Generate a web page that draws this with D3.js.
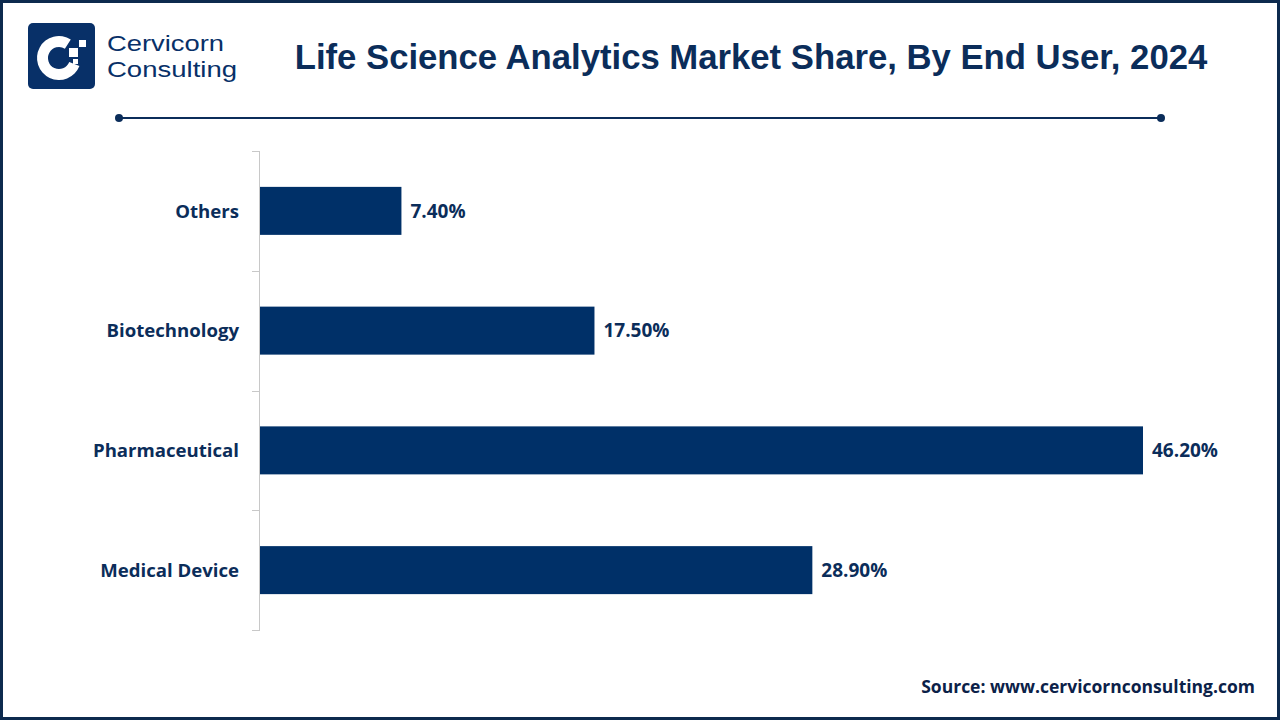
<!DOCTYPE html>
<html><head><meta charset="utf-8">
<script src="https://cdn.jsdelivr.net/npm/d3@7"></script>
<style>html,body{margin:0;padding:0;background:#fff;}svg{display:block;}</style>
</head><body>
<script>
const categories = ["Others", "Biotechnology", "Pharmaceutical", "Medical Device"];
const shares = [7.4, 17.5, 46.2, 28.9];
const valueLabels = ["7.40%", "17.50%", "46.20%", "28.90%"];
const title = "Life Science Analytics Market Share, By End User, 2024";
const source = "Source: www.cervicornconsulting.com";
const brandLines = ["Cervicorn", "Consulting"];

const W = 1280, H = 720;
const navy = "#0b2d5a", bar = "#003068";
const svg = d3.select("body").append("svg").attr("width", W).attr("height", H);
svg.append("rect").attr("width", W).attr("height", H).attr("fill", "#fff");
svg.append("rect").attr("x", 1.5).attr("y", 1.5).attr("width", W - 3).attr("height", H - 3)
  .attr("fill", "none").attr("stroke", "#0d2a4e").attr("stroke-width", 3);

// Logo
const logo = svg.append("g").attr("transform", "translate(28,23)");
logo.append("rect").attr("width", 67).attr("height", 66).attr("rx", 5).attr("fill", "#083068");
logo.append("path").attr("transform", "translate(31,35)")
  .attr("d", d3.arc()({innerRadius: 11, outerRadius: 22, startAngle: Math.PI * 0.62, endAngle: Math.PI * 2.18}))
  .attr("fill", "#fff");
logo.append("rect").attr("x", 41).attr("y", 25).attr("width", 9).attr("height", 9).attr("fill", "#fff");
logo.append("rect").attr("x", 51).attr("y", 17).attr("width", 7).attr("height", 7).attr("fill", "#fff");
logo.append("rect").attr("x", 45).attr("y", 36).attr("width", 5).attr("height", 5).attr("fill", "#fff");
const brandWidths = [117, 130];
svg.selectAll(".brand").data(brandLines).join("text")
  .attr("x", 107).attr("y", (d, i) => 51 + i * 25.5).text(d => d)
  .attr("textLength", (d, i) => brandWidths[i]).attr("lengthAdjust", "spacingAndGlyphs")
  .attr("font-family", "Liberation Sans, Arial, sans-serif").attr("font-size", 22.5)
  .attr("fill", "#083068");

// Title
svg.append("text").attr("x", 751).attr("y", 69).attr("text-anchor", "middle").text(title)
  .attr("font-family", "Liberation Sans, Arial, sans-serif").attr("font-weight", "bold")
  .attr("font-size", 34.7).attr("fill", navy);

// Header rule
svg.append("line").attr("x1", 119).attr("x2", 1161).attr("y1", 118).attr("y2", 118)
  .attr("stroke", navy).attr("stroke-width", 2);
[119, 1161].forEach(cx => svg.append("circle").attr("cx", cx).attr("cy", 118).attr("r", 4).attr("fill", navy));

// Scales
const x = d3.scaleLinear().domain([0, 46.2]).range([260, 1143]);
const band = d3.scaleBand().domain(categories).range([151, 630]);

// Axis line and boundary ticks
const g = svg.append("g");
g.append("line").attr("x1", 259.5).attr("x2", 259.5).attr("y1", 151).attr("y2", 630)
  .attr("stroke", "#c8c8c8").attr("stroke-width", 1);
const bounds = categories.map(c => band(c)).concat([630]);
g.selectAll(".tk").data(bounds).join("line")
  .attr("x1", 252).attr("x2", 260).attr("y1", d => Math.round(d) + 0.5).attr("y2", d => Math.round(d) + 0.5)
  .attr("stroke", "#c8c8c8").attr("stroke-width", 1);

// Bars
svg.selectAll(".bar").data(categories).join("rect")
  .attr("x", x(0)).attr("y", d => band(d) + band.bandwidth() / 2 - 24)
  .attr("width", (d, i) => x(shares[i]) - x(0)).attr("height", 48).attr("fill", bar);

// Category labels
svg.selectAll(".cat").data(categories).join("text")
  .attr("x", 239).attr("y", d => band(d) + band.bandwidth() / 2).attr("dy", "0.36em")
  .attr("text-anchor", "end").text(d => d)
  .attr("font-family", "Open Sans, sans-serif").attr("font-weight", "bold")
  .attr("font-size", 18.6).attr("fill", navy);

// Value labels
svg.selectAll(".val").data(categories).join("text")
  .attr("x", (d, i) => x(shares[i]) + 9).attr("y", d => band(d) + band.bandwidth() / 2).attr("dy", "0.36em")
  .text((d, i) => valueLabels[i])
  .attr("font-family", "Open Sans, sans-serif").attr("font-weight", "bold")
  .attr("font-size", 19).attr("fill", navy);

// Source
svg.append("text").attr("x", 1255).attr("y", 693).attr("text-anchor", "end").text(source)
  .attr("font-family", "Open Sans, sans-serif").attr("font-weight", "bold")
  .attr("font-size", 17.5).attr("fill", "#0b2148");
</script>
</body></html>
